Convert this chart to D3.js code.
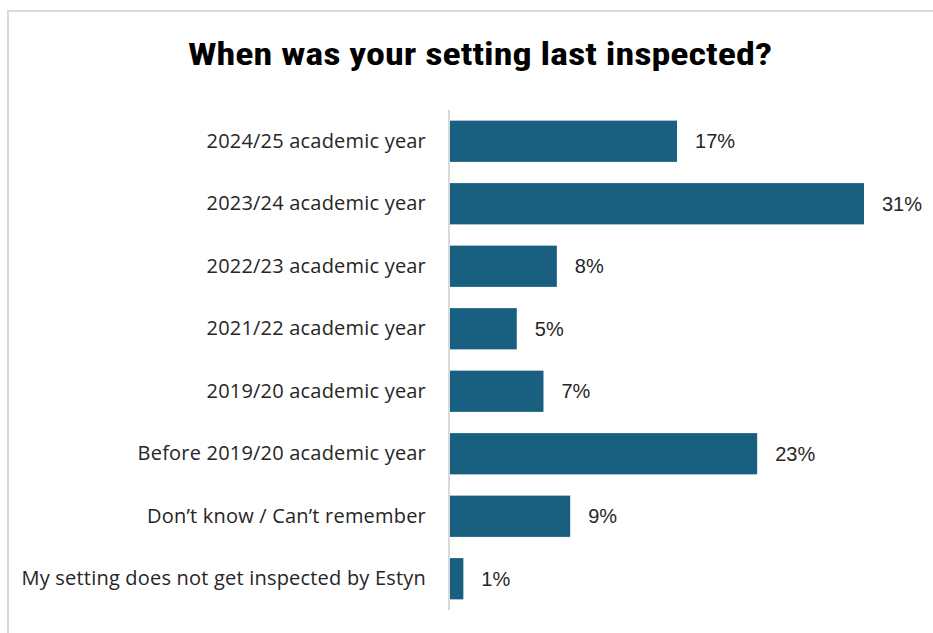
<!DOCTYPE html>
<html>
<head>
<meta charset="utf-8">
<script src="https://cdn.jsdelivr.net/npm/d3@7"></script>
<style>
  html, body { margin: 0; padding: 0; background: #ffffff; }
  svg { display: block; }
</style>
</head>
<body>
<svg id="chart" width="933" height="633"></svg>
<script>
// Survey responses: when the setting was last inspected
const categories = [
  "2024/25 academic year",
  "2023/24 academic year",
  "2022/23 academic year",
  "2021/22 academic year",
  "2019/20 academic year",
  "Before 2019/20 academic year",
  "Don\u2019t know / Can\u2019t remember",
  "My setting does not get inspected by Estyn"
];
const values = [17, 31, 8, 5, 7, 23, 9, 1];
const titleText = "When was your setting last inspected?";

const svg = d3.select("#chart");
const W = 933, H = 633;

// chart frame
svg.append("rect")
  .attr("x", 8).attr("y", 11)
  .attr("width", W + 10).attr("height", H + 10)
  .attr("fill", "#ffffff")
  .attr("stroke", "#d9d9d9")
  .attr("stroke-width", 2);

// title (condensed bold face, stretched to its set width)
svg.append("text")
  .attr("x", 480).attr("y", 65)
  .attr("text-anchor", "middle")
  .attr("font-family", "'Roboto Condensed', 'Liberation Sans Narrow', 'DejaVu Sans Condensed', sans-serif")
  .attr("font-weight", "bold")
  .attr("font-size", 31)
  .attr("textLength", 584)
  .attr("lengthAdjust", "spacingAndGlyphs")
  .attr("fill", "#000000")
  .text(titleText);

const x0 = 450;
const x = d3.scaleLinear().domain([0, 31]).range([x0, 864]);
const y = d3.scaleBand().domain(categories).range([110, 610]).paddingInner(0.34).paddingOuter(0.17);

// bars
svg.append("g").selectAll("rect")
  .data(values)
  .join("rect")
  .attr("x", x(0))
  .attr("y", (d, i) => y(categories[i]))
  .attr("width", d => x(d) - x(0))
  .attr("height", y.bandwidth())
  .attr("fill", "#185f80");

// category axis
const axis = d3.axisLeft(y).tickSize(0).tickPadding(23);
const gAxis = svg.append("g")
  .attr("transform", `translate(${x0 - 1},0)`)
  .call(axis);
gAxis.select(".domain")
  .attr("stroke", "#d9d9d9")
  .attr("stroke-width", 2)
  .attr("d", "M0,110V610");
gAxis.selectAll("text")
  .attr("font-family", "'Open Sans', 'Liberation Sans', sans-serif")
  .attr("font-size", 20)
  .attr("letter-spacing", 0.2)
  .attr("fill", "#262626");

// value labels
svg.append("g").selectAll("text")
  .data(values)
  .join("text")
  .attr("x", d => x(d) + 18)
  .attr("y", (d, i) => y(categories[i]) + y.bandwidth() / 2)
  .attr("dy", "0.36em")
  .attr("font-family", "'Liberation Sans', Arial, sans-serif")
  .attr("font-size", 20)
  .attr("fill", "#262626")
  .text(d => d + "%");
</script>
</body>
</html>
